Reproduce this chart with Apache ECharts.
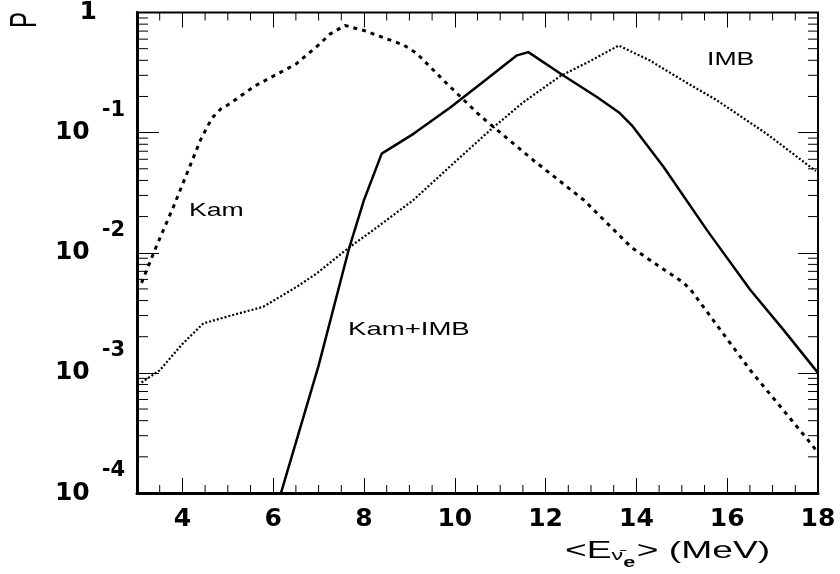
<!DOCTYPE html>
<html>
<head>
<meta charset="utf-8">
<script src="https://cdn.jsdelivr.net/npm/echarts@6/dist/echarts.min.js"></script>
<style>
  html, body { margin: 0; padding: 0; background: #fff; }
  #chart { width: 840px; height: 574px; }
</style>
</head>
<body>
<div id="chart"></div>
<script>
// values
var kamX = [3.1, 3.4, 3.8, 4.1, 4.4, 4.65, 4.85, 5.0, 5.6, 6.5, 7.0, 7.25, 7.58, 8.0, 8.87, 9.16, 9.82, 10.56, 11.73, 12.84, 13.9, 15.04, 15.2, 16.51, 17.87, 17.95];
var kamP = [0.00562, 0.0107, 0.024, 0.0457, 0.0871, 0.132, 0.158, 0.170, 0.245, 0.372, 0.537, 0.661, 0.780, 0.708, 0.537, 0.457, 0.257, 0.138, 0.0589, 0.0275, 0.011, 0.00562, 0.0049, 0.00105, 0.000251, 0.000229];

var imbX = [3.1, 3.5, 4.0, 4.46, 5.0, 5.78, 6.52, 6.96, 7.69, 8.21, 9.09, 9.9, 10.78, 11.5, 12.32, 13.0, 13.61, 14.3, 15.0, 15.77, 16.87, 17.95];
var imbP = [0.000832, 0.00105, 0.00174, 0.00258, 0.00295, 0.00355, 0.00521, 0.00673, 0.0112, 0.0155, 0.0275, 0.0525, 0.105, 0.178, 0.295, 0.398, 0.531, 0.398, 0.275, 0.186, 0.0977, 0.0479];

var bothX = [6.0, 7.0, 7.66, 8.0, 8.39, 9.09, 9.9, 10.6, 11.37, 11.62, 12.39, 13.13, 13.61, 13.9, 14.6, 15.55, 16.51, 17.24, 18];
var bothP = [0.0000603, 0.00115, 0.0105, 0.0275, 0.0668, 0.0977, 0.162, 0.260, 0.440, 0.468, 0.299, 0.198, 0.148, 0.115, 0.0518, 0.0155, 0.00489, 0.00228, 0.001];

// minor ticks
var xMinor = [3.5, 4.5, 5, 5.5, 6.5, 7, 7.5, 8.5, 9, 9.5, 10.5, 11, 11.5, 12.5, 13, 13.5, 14.5, 15, 15.5, 16.5, 17, 17.5];
var logMant = [2, 3, 4, 5, 6, 7, 8, 9];
var logDecades = [-4, -3, -2, -1];

function pairs(xs, ys) {
  return xs.map(function (x, i) { return [x, ys[i]]; });
}

var tickData = [];
xMinor.forEach(function (v) { tickData.push([v, 0.01, 0]); });
logDecades.forEach(function (d) {
  logMant.forEach(function (m) { tickData.push([10, m * Math.pow(10, d), 1]); });
});

var chart = echarts.init(document.getElementById('chart'));

var labelFont = 'DejaVu Sans';

chart.setOption({
  animation: false,
  backgroundColor: '#fff',
  grid: {
    left: 137, right: 22, top: 12, bottom: 81,
    show: true, borderColor: '#000', borderWidth: 2
  },
  xAxis: [{
    type: 'value', min: 3, max: 18, splitNumber: 7,
    axisLine: { lineStyle: { color: '#000', width: 3 } },
    axisTick: { inside: true, length: 15, lineStyle: { color: '#000', width: 1 } },
    splitLine: { show: false },
    axisLabel: {
      showMinLabel: false, margin: 14, color: '#000',
      fontFamily: labelFont, fontWeight: 'bold', fontSize: 25
    }
  }, {
    type: 'value', min: 3, max: 18, splitNumber: 7, position: 'top',
    axisLine: { show: false },
    axisTick: { inside: true, length: 15, lineStyle: { color: '#000', width: 1 } },
    splitLine: { show: false },
    axisLabel: { show: false }
  }],
  yAxis: [{
    type: 'log', logBase: 10, min: 0.0001, max: 1, splitNumber: 4,
    axisLine: { lineStyle: { color: '#000', width: 3 } },
    axisTick: { inside: true, length: 22, lineStyle: { color: '#000', width: 1 } },
    splitLine: { show: false },
    axisLabel: {
      margin: 12, color: '#000',
      formatter: function (v) {
        var e = Math.round(Math.log10(v));
        if (e === 0) return '{one|1}';
        return '{b|10}{e|' + e + '}';
      },
      rich: {
        b: { fontFamily: labelFont, fontWeight: 'bold', fontSize: 25, color: '#000' },
        e: { fontFamily: labelFont, fontWeight: 'bold', fontSize: 21, color: '#000', padding: [0, 0, 44, 12] },
        one: { fontFamily: labelFont, fontWeight: 'bold', fontSize: 25, color: '#000', padding: [0, 28, 0, 0] }
      }
    }
  }, {
    type: 'log', logBase: 10, min: 0.0001, max: 1, splitNumber: 4, position: 'right',
    axisLine: { show: false },
    axisTick: { inside: true, length: 20, lineStyle: { color: '#000', width: 1 } },
    splitLine: { show: false },
    axisLabel: { show: false }
  }],
  graphic: [
    { type: 'text', x: 26, y: 20, rotation: Math.PI / 2, scaleY: 1.5,
      style: { text: 'P', font: '24px "Liberation Sans"', fill: '#000', align: 'center', verticalAlign: 'middle' } },
    { type: 'text', x: 189, y: 211, scaleX: 1.4,
      style: { text: 'Kam', font: '19px "Liberation Sans"', fill: '#000', verticalAlign: 'middle' } },
    { type: 'text', x: 707, y: 60, scaleX: 1.4,
      style: { text: 'IMB', font: '19px "Liberation Sans"', fill: '#000', verticalAlign: 'middle' } },
    { type: 'text', x: 348, y: 330, scaleX: 1.45,
      style: { text: 'Kam+IMB', font: '19px "Liberation Sans"', fill: '#000', verticalAlign: 'middle' } },
    { type: 'text', x: 565, y: 551, scaleX: 1.55,
      style: {
        text: '{n|<E}{s|ν̄}{t|e}{n|> (MeV)}',
        verticalAlign: 'middle',
        rich: {
          n: { fontFamily: 'Liberation Sans', fontSize: 24, fill: '#000' },
          s: { fontFamily: 'Liberation Sans', fontSize: 15, fill: '#000', padding: [10, 0, 0, 0] },
          t: { fontFamily: 'Liberation Sans', fontSize: 14, fontWeight: 'bold', fill: '#000', padding: [24, 1, 0, 0] }
        }
      } }
  ],
  series: [{
    name: 'Kam', type: 'line', data: pairs(kamX, kamP),
    showSymbol: false, symbol: 'none',
    lineStyle: { color: '#000', width: 3, type: [4, 5] }
  }, {
    name: 'IMB', type: 'line', data: pairs(imbX, imbP),
    showSymbol: false, symbol: 'none',
    lineStyle: { color: '#000', width: 2.2, type: [2, 2] }
  }, {
    name: 'Kam+IMB', type: 'line', data: pairs(bothX, bothP),
    showSymbol: false, symbol: 'none',
    lineStyle: { color: '#000', width: 2.5 }
  }, {
    // minor ticks on all four sides
    type: 'custom', silent: true, clip: false, z: 5,
    data: tickData,
    renderItem: function (params, api) {
      var cs = params.coordSys;
      var kind = api.value(2);
      var style = { stroke: '#000', lineWidth: 1 };
      if (kind === 0) {
        var px = api.coord([api.value(0), 0.01])[0];
        var bot = cs.y + cs.height;
        return { type: 'group', children: [
          { type: 'line', shape: { x1: px, y1: bot, x2: px, y2: bot - 8 }, style: style },
          { type: 'line', shape: { x1: px, y1: cs.y, x2: px, y2: cs.y + 8 }, style: style }
        ] };
      }
      var py = api.coord([10, api.value(1)])[1];
      var right = cs.x + cs.width;
      return { type: 'group', children: [
        { type: 'line', shape: { x1: cs.x, y1: py, x2: cs.x + 11, y2: py }, style: style },
        { type: 'line', shape: { x1: right, y1: py, x2: right - 10, y2: py }, style: style }
      ] };
    }
  }]
});
</script>
</body>
</html>
